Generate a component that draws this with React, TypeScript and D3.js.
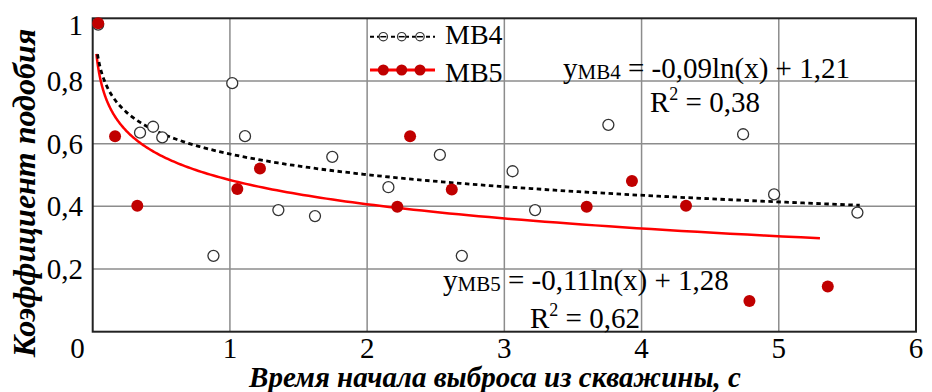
import React, { FC, useMemo } from 'react'
import * as d3 from 'd3'

// MB4 – open circles
const mb4X = [0.04, 0.345, 0.44, 0.507, 0.88, 1.017, 1.11, 1.353, 1.62, 1.746, 2.155, 2.53, 2.69, 3.06, 3.224, 3.758, 4.74, 4.966, 5.573]
const mb4Y = [0.98, 0.635, 0.654, 0.62, 0.242, 0.793, 0.624, 0.388, 0.369, 0.558, 0.461, 0.564, 0.242, 0.512, 0.388, 0.66, 0.63, 0.438, 0.38]

// MB5 – filled red
const mb5X = [0.04, 0.163, 0.325, 1.054, 1.219, 2.22, 2.313, 2.617, 3.6, 3.93, 4.324, 4.786, 5.357]
const mb5Y = [0.984, 0.624, 0.402, 0.455, 0.521, 0.399, 0.624, 0.454, 0.399, 0.481, 0.402, 0.098, 0.144]

// log trend lines as drawn: y = a*ln(x) + b, over [from, to]
const mb4Trend = { a: -0.095, b: 0.567, from: 0.035, to: 5.59 }
const mb5Trend = { a: -0.1115, b: 0.484, from: 0.027, to: 5.3 }

const xTicks = [1, 2, 3, 4, 5, 6]
const yTicks = [0.2, 0.4, 0.6, 0.8, 1]
const yTickLabels = ['0,2', '0,4', '0,6', '0,8', '1']

const W = 932
const H = 392
const serif = { fontFamily: "'Times New Roman', Times, serif" }

const App: FC = () => {
	const x = useMemo(() => d3.scaleLinear().domain([0, 6]).range([92.7, 916]), [])
	const y = useMemo(() => d3.scaleLinear().domain([0, 1]).range([331.7, 18.3]), [])

	const trendPath = (t: { a: number; b: number; from: number; to: number }) => {
		const pts = d3.range(0, 201).map(i => {
			const xv = t.from * Math.pow(t.to / t.from, i / 200)
			return [xv, t.a * Math.log(xv) + t.b] as [number, number]
		})
		return d3
			.line<[number, number]>()
			.x(d => x(d[0]))
			.y(d => y(d[1]))(pts) as string
	}

	const [x0, x1] = x.range()
	const [y0, y1] = y.range()
	const legendDots = [383.3, 401.7, 420]

	return (
		<svg width={W} height={H} style={{ position: 'absolute', left: 0, top: 0, background: '#fff', ...serif }}>
			{/* сетка */}
			<g stroke="#8c8c8c" strokeWidth={1.5}>
				{xTicks.slice(0, -1).map(t => (
					<line key={'gx' + t} x1={x(t)} x2={x(t)} y1={y1} y2={y0} />
				))}
				{yTicks.slice(0, -1).map(t => (
					<line key={'gy' + t} x1={x0} x2={x1} y1={y(t)} y2={y(t)} />
				))}
			</g>
			<rect x={x0} y={y1} width={x1 - x0} height={y0 - y1} fill="none" stroke="#222" strokeWidth={2} />

			{/* тренды */}
			<path d={trendPath(mb5Trend)} fill="none" stroke="#ff0000" strokeWidth={2.5} />
			<path d={trendPath(mb4Trend)} fill="none" stroke="#000" strokeWidth={2.8} strokeDasharray="4.5,3.5" />

			{/* точки */}
			{mb4X.map((v, i) => (
				<circle key={'a' + i} cx={x(v)} cy={y(mb4Y[i])} r={5.5} fill="#fff" stroke="#333" strokeWidth={1.3} />
			))}
			{mb5X.map((v, i) => (
				<circle key={'b' + i} cx={x(v)} cy={y(mb5Y[i])} r={6} fill="#c00000" />
			))}

			{/* подписи осей */}
			<g fill="#000">
				{yTicks.map((t, i) => (
					<text key={'ty' + t} x={83} y={y(t) + (t === 1 ? 17 : 10)} textAnchor="end" style={{ ...serif, fontSize: 29 }}>
						{yTickLabels[i]}
					</text>
				))}
				{xTicks.map(t => (
					<text key={'tx' + t} x={x(t)} y={358} textAnchor="middle" style={{ ...serif, fontSize: 29 }}>
						{t}
					</text>
				))}
				<text x={77.5} y={358} textAnchor="middle" style={{ ...serif, fontSize: 29 }}>0</text>
			</g>

			<text
				x={495}
				y={387}
				textAnchor="middle"
				style={{ ...serif, fontSize: 29, fontWeight: 'bold', fontStyle: 'italic' }}
			>
				Время начала выброса из скважины, с
			</text>
			<text
				transform={`translate(35, 193) rotate(-90)`}
				textAnchor="middle"
				style={{ ...serif, fontSize: 32, fontWeight: 'bold', fontStyle: 'italic' }}
			>
				Коэффициент подобия
			</text>

			{/* легенда */}
			<g>
				<line x1={370} x2={435} y1={36.7} y2={36.7} stroke="#000" strokeWidth={2} strokeDasharray="4,3" />
				{legendDots.map(cx => (
					<circle key={'l4' + cx} cx={cx} cy={36.7} r={4.2} fill="#fff" stroke="#333" strokeWidth={1.2} />
				))}
				{legendDots.map(cx => (
					<line key={'l4m' + cx} x1={cx - 3} x2={cx + 3} y1={36.7} y2={36.7} stroke="#000" strokeWidth={1.5} />
				))}
				<text x={445} y={43.5} style={{ ...serif, fontSize: 28 }}>MB4</text>
				<line x1={370} x2={435} y1={70} y2={70} stroke="#ff0000" strokeWidth={3} />
				{legendDots.map(cx => (
					<circle key={'l5' + cx} cx={cx} cy={70} r={5.5} fill="#c00000" />
				))}
				<text x={445} y={81.5} style={{ ...serif, fontSize: 28 }}>MB5</text>
			</g>

			{/* уравнения */}
			<g fill="#000">
				<text x={563} y={78} style={{ ...serif, fontSize: 29 }}>
					y<tspan style={{ fontSize: 21 }} dy={1}>MB4</tspan>
					<tspan dy={-1}> = -0,09ln(x) + 1,21</tspan>
				</text>
				<text x={650} y={112} style={{ ...serif, fontSize: 29 }}>
					R<tspan style={{ fontSize: 18 }} dy={-12}>2</tspan>
					<tspan dy={12}> = 0,38</tspan>
				</text>
				<text x={443} y={290} style={{ ...serif, fontSize: 29 }}>
					y<tspan style={{ fontSize: 21 }} dy={1}>MB5</tspan>
					<tspan dy={-1}> = -0,11ln(x) + 1,28</tspan>
				</text>
				<text x={530} y={328} style={{ ...serif, fontSize: 29 }}>
					R<tspan style={{ fontSize: 18 }} dy={-12}>2</tspan>
					<tspan dy={12}> = 0,62</tspan>
				</text>
			</g>
		</svg>
	)
}

export default App
